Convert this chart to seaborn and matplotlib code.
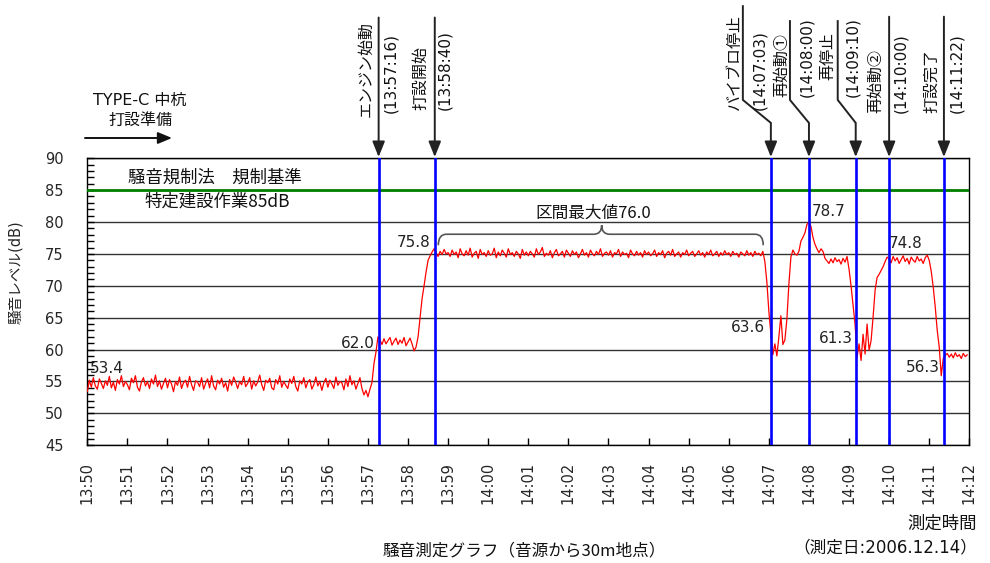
import numpy as np
import pandas as pd
import matplotlib
matplotlib.use("Agg")
import matplotlib.pyplot as plt
import seaborn as sns
from matplotlib.path import Path
from matplotlib.patches import PathPatch
from matplotlib.ticker import MultipleLocator

# noise level (dB), one value every 3 s from 13:50:00, one row per minute
start_time = "13:50:00"
sample_step_sec = 3
level_db = [
    53.4, 55.2, 54.1, 55.6, 54.3, 53.8, 55.4, 54.7, 53.9, 55.1, 54.4, 55.8, 54.0, 54.9, 53.6, 55.3, 54.6, 55.9, 54.2, 55.0,
    54.5, 53.7, 55.5, 54.8, 55.9, 54.1, 53.5, 54.9, 55.6, 54.3, 55.0, 53.9, 55.4, 54.6, 56.0, 54.2, 55.1, 53.8, 54.7, 55.5,
    54.0, 55.3, 54.6, 53.4, 55.0, 54.4, 55.7, 53.9, 54.8, 55.2, 54.1, 55.8, 54.5, 53.6, 55.1, 54.9, 54.2, 55.6, 53.8, 54.7,
    55.4, 54.0, 55.9, 54.3, 53.7, 55.2, 54.6, 55.5, 54.1, 54.8, 53.5, 55.3, 54.4, 55.7, 54.9, 53.9, 55.0, 54.5, 55.8, 54.2,
    54.7, 55.6, 53.8, 55.1, 54.3, 54.9, 56.0, 54.5, 53.6, 55.2, 54.8, 55.5, 54.0, 53.7, 55.3, 54.6, 55.9, 54.1, 55.0, 54.4,
    53.9, 55.4, 54.7, 55.8, 54.2, 53.5, 55.1, 54.6, 55.6, 54.0, 54.9, 55.3, 53.8, 54.5, 55.7, 54.3, 55.0, 53.6, 54.8, 55.5,
    54.1, 55.2, 54.6, 53.9, 55.7, 54.4, 55.0, 54.8, 53.7, 55.4, 54.2, 55.9, 54.5, 55.1, 53.8, 54.7, 55.6, 53.9, 52.9, 53.6,
    52.6, 53.8, 54.8, 57.8, 59.6, 62.0, 61.5, 60.8, 61.7, 60.9, 61.4, 61.9, 60.7, 61.3, 61.8, 60.8, 61.5, 61.0, 61.9, 60.6,
    61.2, 61.8, 60.9, 59.8, 60.4, 62.0, 65.0, 68.0, 70.0, 72.2, 74.0, 74.7, 75.3, 75.8, 75.1, 74.6, 75.4, 74.9, 75.7, 75.0,
    75.2, 74.6, 75.6, 74.9, 75.3, 74.4, 75.8, 75.0, 74.7, 75.5, 74.8, 75.9, 74.5, 75.1, 75.4, 74.3, 75.7, 74.9, 75.2, 74.6,
    75.5, 74.8, 75.0, 75.9, 74.4, 75.3, 74.7, 75.6, 75.1, 74.5, 75.8, 74.9, 75.2, 74.6, 75.4, 75.0, 74.3, 75.7, 74.8, 75.3,
    74.7, 75.4, 75.0, 74.5, 75.8, 74.9, 75.3, 76.0, 74.6, 75.1, 74.8, 75.5, 74.4, 75.2, 75.7, 74.7, 75.0, 75.4, 74.5, 75.6,
    75.1, 74.6, 75.5, 74.9, 75.3, 74.4, 75.0, 75.7, 74.8, 75.2, 74.5, 75.6, 75.0, 74.7, 75.4, 74.9, 75.8, 74.6, 75.1, 75.3,
    74.8, 75.5, 74.5, 75.2, 75.0, 75.7, 74.6, 75.3, 74.9, 75.1, 74.4, 75.6, 75.0, 74.7, 75.4, 74.8, 75.2, 74.5, 75.5, 74.9,
    75.3, 74.7, 75.0, 75.6, 74.6, 75.2, 74.9, 75.5, 74.4, 75.1, 75.4, 74.8, 75.7, 74.6, 75.0, 75.3, 74.5, 75.2, 74.9, 75.6,
    74.7, 75.1, 75.4, 74.6, 75.0, 75.5, 74.8, 75.2, 74.5, 75.3, 74.9, 75.6, 74.7, 75.0, 75.4, 74.6, 75.2, 74.8, 75.5, 74.9,
    75.2, 74.6, 75.4, 74.9, 75.1, 74.5, 75.3, 75.0, 74.7, 75.5, 74.8, 75.2, 74.6, 75.4, 74.9, 75.1, 74.7, 75.4, 73.8, 70.6,
    66.0, 62.5, 59.2, 60.9, 59.0, 62.0, 65.3, 60.8, 61.5, 64.8, 70.3, 74.5, 75.6, 75.0, 74.8, 75.4, 77.0, 77.6, 78.3, 79.6,
    80.0, 79.3, 77.6, 76.5, 75.8, 75.2, 75.8, 75.4, 74.3, 73.9, 73.5, 74.2, 73.6, 74.4, 73.8, 74.1, 73.4, 74.3, 73.7, 74.6,
    72.6, 70.0, 67.0, 64.0, 58.8, 60.9, 58.3, 62.4, 59.3, 64.0, 59.9, 61.4, 65.1, 69.3, 71.3, 71.8, 72.4, 73.0, 73.8, 74.5,
    74.2, 73.6, 74.6, 73.9, 74.4, 73.5, 74.1, 74.7, 73.8, 74.3, 73.4, 74.5, 74.0, 73.7, 74.6, 73.9, 74.2, 73.5, 74.4, 74.8,
    74.0, 72.3, 69.8, 66.7, 63.0, 60.4, 55.9, 58.6, 59.1, 59.4, 58.8, 59.3, 58.7, 59.5, 58.9, 59.2, 58.6, 59.4, 58.9, 59.2,
]

tick_labels = ["13:50", "13:51", "13:52", "13:53", "13:54", "13:55", "13:56", "13:57", "13:58", "13:59",
               "14:00", "14:01", "14:02", "14:03", "14:04", "14:05", "14:06", "14:07", "14:08", "14:09",
               "14:10", "14:11", "14:12"]
y_ticks = [45, 50, 55, 60, 65, 70, 75, 80, 85, 90]

event_names = ["エンジン始動", "打設開始", "バイブロ停止", "再始動①", "再停止", "再始動②", "打設完了"]
event_times = ["13:57:16", "13:58:40", "14:07:03", "14:08:00", "14:09:10", "14:10:00", "14:11:22"]

limit_db = 85
limit_texts = ["騒音規制法　規制基準", "特定建設作業85dB"]
max_text = "区間最大値76.0"
value_texts = ["53.4", "62.0", "75.8", "63.6", "78.7", "61.3", "74.8", "56.3"]


def to_min(hms):
    h, m, s = [int(v) for v in hms.split(":")]
    h0, m0, s0 = [int(v) for v in start_time.split(":")]
    return (h * 3600 + m * 60 + s - (h0 * 3600 + m0 * 60 + s0)) / 60


df = pd.DataFrame({
    "minute": np.arange(len(level_db)) * sample_step_sec / 60,
    "level": level_db,
})
event_min = [to_min(t) for t in event_times]

sns.set_style("white")
plt.rcParams["font.family"] = ["DejaVu Sans", "Noto Sans CJK JP"]
plt.rcParams["text.color"] = "#111111"
jp = ["Noto Sans CJK JP", "DejaVu Sans"]

fig = plt.figure(figsize=(9.9, 5.63), dpi=100)
ax = fig.add_axes([0.0882, 0.2091, 0.8909, 0.5099])

sns.lineplot(data=df, x="minute", y="level", color="#ff0000", lw=0.9, estimator=None, ax=ax, zorder=3)

ax.set_xlim(0, len(tick_labels) - 1)
ax.set_ylim(y_ticks[0], y_ticks[-1])
ax.set_xticks(range(len(tick_labels)))
ax.set_xticklabels(tick_labels, rotation=90, fontsize=10.5)
ax.set_yticks(y_ticks)
ax.set_yticklabels([str(v) for v in y_ticks], fontsize=10.5)
ax.yaxis.set_minor_locator(MultipleLocator(1))
ax.tick_params(axis="y", which="both", left=True, direction="in", length=5, width=1, color="black", pad=17)
ax.tick_params(axis="x", which="major", bottom=True, direction="in", length=5, width=1, color="black", pad=12)
ax.grid(axis="y", color="#333333", lw=1.0)
ax.grid(axis="x", visible=False)
for sp in ax.spines.values():
    sp.set_visible(True)
    sp.set_color("black")
    sp.set_linewidth(1.0)

ax.set_xlabel("")
ax.set_ylabel("騒音レベル(dB)", fontsize=10.5)
ax.yaxis.set_label_coords(-0.073, 0.604)

# regulation limit
ax.axhline(limit_db, color="#008000", lw=2.0, zorder=4)
ax.text(3.19, 86.9, limit_texts[0], ha="center", va="center", fontsize=12.5, family=jp)
ax.text(3.23, 83.2, limit_texts[1], ha="center", va="center", fontsize=12.5, family=jp)

# event lines
for x in event_min:
    ax.axvline(x, color="#0000ff", lw=1.9, zorder=4)

# brace over the steady section
xl, xm, xr = 8.755, 12.83, 16.86
ye, ym, yt = 76.35, 78.08, 79.5
verts = [(xl, ye), (xl, ym), (xl + 0.2, ym), (xm - 0.2, ym), (xm, ym), (xm, yt),
         (xm, ym), (xm + 0.2, ym), (xr - 0.2, ym), (xr, ym), (xr, ye)]
codes = [Path.MOVETO, Path.CURVE3, Path.CURVE3, Path.LINETO, Path.CURVE3, Path.CURVE3,
         Path.CURVE3, Path.CURVE3, Path.LINETO, Path.CURVE3, Path.CURVE3]
ax.add_patch(PathPatch(Path(verts, codes), fill=False, ec="#555555", lw=1.2, zorder=5))
ax.text(xm - 0.2, 81.35, max_text, ha="center", va="center", fontsize=12, family=jp)

# value labels (x in minutes, y in dB, alignment)
value_pos = [(0.07, 57.1, "left"), (7.17, 61.0, "right"), (8.55, 76.75, "right"), (16.9, 63.4, "right"),
             (18.07, 81.7, "left"), (19.1, 61.7, "right"), (19.98, 76.6, "left"), (21.27, 57.2, "right")]
for txt, (x, y, ha) in zip(value_texts, value_pos):
    ax.text(x, y, txt, ha=ha, va="center", fontsize=11, color="#222222", zorder=6)

# event arrows and labels above the axes
trans = ax.get_xaxis_transform()
ppm = 0.8909 * 990 / (len(tick_labels) - 1)
bend_px = [0, 0, -28, -19, -18, 0, 0]
line_top = [1.49, 1.49, 1.533, 1.481, 1.481, 1.493, 1.493]
name_dx = [-13, -14, -8, -8, -10, -13, -12]
time_dx = [12, 10, 17, 17, 15, 12, 13]
name_bottom = [1.144, 1.168, 1.168, 1.213, 1.272, 1.158, 1.158]
time_bottom = [1.158, 1.168, 1.168, 1.213, 1.213, 1.158, 1.158]
head = "-|>,head_length=0.55,head_width=0.22"

for i, x in enumerate(event_min):
    xt = x + bend_px[i] / ppm
    if bend_px[i] != 0:
        ax.plot([xt, xt, x], [line_top[i], 1.203, 1.123], color="#222222", lw=1.4,
                transform=trans, clip_on=False, solid_capstyle="butt")
        y0 = 1.123
    else:
        y0 = line_top[i]
    ax.annotate("", xy=(x, 1.004), xytext=(x, y0), xycoords=trans, textcoords=trans,
                arrowprops=dict(arrowstyle=head, mutation_scale=17, color="#222222", lw=1.4,
                                shrinkA=0, shrinkB=0))
    ax.text(xt + name_dx[i] / ppm, name_bottom[i], event_names[i], transform=trans, rotation=90,
            ha="center", va="bottom", fontsize=11.5, family=jp, clip_on=False)
    ax.text(xt + time_dx[i] / ppm, time_bottom[i], "(" + event_times[i] + ")", transform=trans,
            rotation=90, ha="center", va="bottom", fontsize=11, clip_on=False)

# preparation note, top left
ax.annotate("TYPE-C 中杭\n打設準備", xy=(140, 453), xycoords="figure pixels", ha="center", va="center",
            fontsize=11.5, linespacing=1.4)
ax.annotate("", xy=(172, 425), xytext=(85, 425), xycoords="figure pixels", textcoords="figure pixels",
            arrowprops=dict(arrowstyle="-|>,head_length=0.6,head_width=0.25", mutation_scale=14,
                            color="#111111", lw=1.4, shrinkA=0, shrinkB=0))

# bottom captions
ax.annotate("測定時間", xy=(977, 39), xycoords="figure pixels", ha="right", va="center", fontsize=12.5,
            family=jp)
ax.annotate("（測定日:2006.12.14）", xy=(977, 15.5), xycoords="figure pixels", ha="right", va="center",
            fontsize=12)
ax.annotate("騒音測定グラフ（音源から30m地点）", xy=(524, 12), xycoords="figure pixels", ha="center",
            va="center", fontsize=12, family=jp)

fig.savefig("out.png", dpi=100)
